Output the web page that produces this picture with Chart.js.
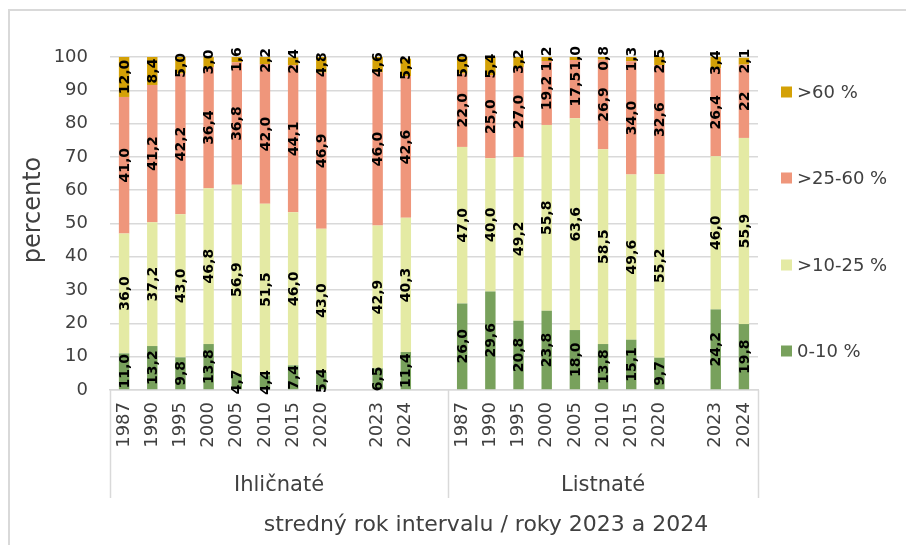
<!DOCTYPE html>
<html>
<head>
<meta charset="utf-8">
<script src="https://cdn.jsdelivr.net/npm/chart.js@4.4.1/dist/chart.umd.min.js"></script>
<style>
  html, body { margin: 0; padding: 0; background: #ffffff; }
  #wrap { width: 906px; height: 545px; position: relative; }
</style>
</head>
<body>
<div id="wrap"><canvas id="chart" width="906" height="545"></canvas></div>
<script>
// Categories: conifers (Ihličnaté) then broadleaves (Listnaté); '' marks an empty slot
const categories = [
  '1987', '1990', '1995', '2000', '2005', '2010', '2015', '2020', '', '2023', '2024', '',
  '1987', '1990', '1995', '2000', '2005', '2010', '2015', '2020', '', '2023', '2024'
];
const groupNames = ['Ihličnaté', 'Listnaté'];
const groupSizes = [12, 11];

const seriesNames = ['0-10 %', '>10-25 %', '>25-60 %', '>60 %'];
const share0to10 = [
  11.0, 13.2, 9.8, 13.8, 4.7, 4.4, 7.4, 5.4, null, 6.5, 11.4, null,
  26.0, 29.6, 20.8, 23.8, 18.0, 13.8, 15.1, 9.7, null, 24.2, 19.8
];
const share10to25 = [
  36.0, 37.2, 43.0, 46.8, 56.9, 51.5, 46.0, 43.0, null, 42.9, 40.3, null,
  47.0, 40.0, 49.2, 55.8, 63.6, 58.5, 49.6, 55.2, null, 46.0, 55.9
];
const share25to60 = [
  41.0, 41.2, 42.2, 36.4, 36.8, 42.0, 44.1, 46.9, null, 46.0, 42.6, null,
  22.0, 25.0, 27.0, 19.2, 17.5, 26.9, 34.0, 32.6, null, 26.4, 22
];
const shareOver60 = [
  12.0, 8.4, 5.0, 3.0, 1.6, 2.2, 2.4, 4.8, null, 4.6, 5.2, null,
  5.0, 5.4, 3.2, 1.2, 1.0, 0.8, 1.3, 2.5, null, 3.4, 2.1
];
// values whose label is printed without a decimal place: [series, index]
const wholeNumberLabels = [[2, 22]];

const yTicks = [0, 10, 20, 30, 40, 50, 60, 70, 80, 90, 100];

const seriesColors = ['#78a15c', '#e4eaa4', '#ef967b', '#d4a106'];
const FONT = "'DejaVu Sans', sans-serif";
const TEXT = '#404040';
const LINE = '#d9d9d9';

function fmt(v, s, i) {
  const whole = wholeNumberLabels.some(p => p[0] === s && p[1] === i);
  return whole ? String(v) : v.toFixed(1).replace('.', ',');
}

// value labels, rotated, centred in each bar segment
const segmentLabels = {
  id: 'segmentLabels',
  afterDatasetsDraw(chart) {
    const ctx = chart.ctx;
    ctx.save();
    ctx.font = 'bold 14px ' + FONT;
    ctx.fillStyle = '#000000';
    ctx.textAlign = 'center';
    ctx.textBaseline = 'middle';
    chart.data.datasets.forEach((ds, s) => {
      const meta = chart.getDatasetMeta(s);
      meta.data.forEach((bar, i) => {
        const v = ds.data[i];
        if (v === null || v === undefined) return;
        const p = bar.getProps(['x', 'y', 'base'], true);
        ctx.save();
        ctx.translate(p.x, (p.y + p.base) / 2);
        ctx.rotate(-Math.PI / 2);
        ctx.fillText(fmt(v, s, i), 0, 1);
        ctx.restore();
      });
    });
    ctx.restore();
  }
};

// frame, group brackets, axis titles and legend
const decorations = {
  id: 'decorations',
  afterDraw(chart) {
    const ctx = chart.ctx;
    const area = chart.chartArea;
    const xs = chart.scales.x;
    ctx.save();

    // outer frame
    ctx.strokeStyle = LINE;
    ctx.lineWidth = 2;
    ctx.beginPath();
    ctx.moveTo(9, 545);
    ctx.lineTo(9, 10);
    ctx.lineTo(906, 10);
    ctx.stroke();

    // group brackets under the axis
    const bounds = [area.left];
    let idx = 0;
    groupSizes.forEach((n) => {
      idx += n;
      if (idx < categories.length) {
        bounds.push((xs.getPixelForValue(idx - 1) + xs.getPixelForValue(idx)) / 2);
      } else {
        bounds.push(area.right);
      }
    });
    ctx.lineWidth = 1.5;
    bounds.forEach((bx) => {
      ctx.beginPath();
      ctx.moveTo(Math.round(bx) + 0.5, area.bottom);
      ctx.lineTo(Math.round(bx) + 0.5, 498);
      ctx.stroke();
    });

    ctx.fillStyle = TEXT;
    ctx.textAlign = 'center';
    ctx.textBaseline = 'middle';
    ctx.font = '21px ' + FONT;
    groupNames.forEach((name, g) => {
      ctx.fillText(name, (bounds[g] + bounds[g + 1]) / 2, 486);
    });

    // x axis title
    ctx.font = '22px ' + FONT;
    ctx.fillText('stredný rok intervalu / roky 2023 a 2024', 486, 525);

    // y axis title
    ctx.save();
    ctx.translate(34, 210);
    ctx.rotate(-Math.PI / 2);
    ctx.font = '24px ' + FONT;
    ctx.fillText('percento', 0, 0);
    ctx.restore();

    // legend, highest class on top
    const legendY = [92, 178, 265, 351];
    ctx.textAlign = 'left';
    ctx.font = '18px ' + FONT;
    for (let k = 0; k < seriesNames.length; k++) {
      const s = seriesNames.length - 1 - k;
      const y = legendY[k];
      ctx.fillStyle = seriesColors[s];
      ctx.fillRect(781, y - 5.5, 11, 11);
      ctx.fillStyle = TEXT;
      ctx.fillText(seriesNames[s], 797, y + 1);
    }
    ctx.restore();
  }
};

const seriesValues = [share0to10, share10to25, share25to60, shareOver60];

new Chart(document.getElementById('chart'), {
  type: 'bar',
  data: {
    labels: categories,
    datasets: seriesNames.map((name, s) => ({
      label: name,
      data: seriesValues[s],
      backgroundColor: seriesColors[s],
      borderWidth: 0,
      categoryPercentage: 1.0,
      barPercentage: 0.37
    }))
  },
  options: {
    responsive: false,
    devicePixelRatio: 1,
    animation: false,
    layout: { padding: { left: 0, top: 57, right: 148, bottom: 0 } },
    plugins: {
      legend: { display: false },
      tooltip: { enabled: false }
    },
    scales: {
      x: {
        stacked: true,
        grid: { display: false, drawTicks: false },
        border: { display: true, color: LINE, width: 1.5 },
        ticks: {
          autoSkip: false,
          minRotation: 90,
          maxRotation: 90,
          padding: 12,
          color: TEXT,
          font: { family: FONT, size: 18 }
        },
        afterFit(scale) { scale.height = 155; }
      },
      y: {
        stacked: true,
        min: 0,
        max: 100,
        afterBuildTicks(scale) { scale.ticks = yTicks.map(v => ({ value: v })); },
        grid: { color: LINE, lineWidth: 1.5, drawTicks: false },
        border: { display: false },
        ticks: {
          padding: 22,
          color: TEXT,
          font: { family: FONT, size: 18 }
        },
        afterFit(scale) { scale.width = 110; }
      }
    }
  },
  plugins: [segmentLabels, decorations]
});
</script>
</body>
</html>
